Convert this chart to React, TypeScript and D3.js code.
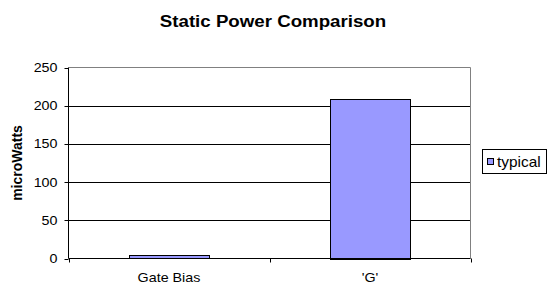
import React from 'react'
import * as d3 from 'd3';

const categories = ['Gate Bias', "'G'"];
const typical = [4, 209];
const yTicks = [0, 50, 100, 150, 200, 250];
const seriesName = 'typical';

// text in the reference is a bit wider than it is tall
const sx = 1.1;

function Label({ x, y, size, anchor = 'start', bold = false, children }: any) {
    return (
        <text transform={`translate(${x},${y}) scale(${sx},1)`} textAnchor={anchor} fontSize={size}
            fontWeight={bold ? 'bold' : 'normal'}>{children}</text>
    );
}

export default function App() {
    const width = 549;
    const height = 285;
    const left = 68.5;
    const right = 470.5;
    const top = 67.5;
    const bottom = 258.5;

    const xScale = d3.scaleBand<string>()
        .domain(categories)
        .range([left, right])
        .paddingInner(0.6)
        .paddingOuter(0.3);
    // band edges for category ticks
    const edge = d3.scaleLinear().domain([0, categories.length]).range([left, right]);

    const yScale = d3.scaleLinear()
        .domain([0, 250])
        .range([bottom, top]);

    const font = '"Liberation Sans", Arial, sans-serif';

    return (
        <svg width={width} height={height} style={{ position: 'absolute', left: 0, top: 0, background: '#fff' }}
            fontFamily={font}>
            <Label x={273} y={27} size={17} anchor='middle' bold>Static Power Comparison</Label>

            {/* gridlines */}
            {yTicks.filter(t => t > 0 && t < 250).map(t => (
                <line key={t} x1={left} x2={right} y1={Math.round(yScale(t)) + 0.5} y2={Math.round(yScale(t)) + 0.5}
                    stroke='#000' strokeWidth={1} />
            ))}
            {/* plot border top / right */}
            <line x1={left} x2={right} y1={top} y2={top} stroke='#808080' />
            <line x1={right} x2={right} y1={top} y2={bottom} stroke='#808080' />

            {/* bars */}
            {categories.map((c, i) => (
                <rect key={c} x={Math.round(xScale(c)!) + 0.5} y={Math.round(yScale(typical[i])) + 0.5}
                    width={Math.round(xScale.bandwidth())} height={Math.round(yScale(0) - yScale(typical[i]))}
                    fill='#9999ff' stroke='#000' strokeWidth={1} />
            ))}

            {/* y axis */}
            <line x1={left} x2={left} y1={top} y2={bottom} stroke='#000' />
            {yTicks.map(t => (
                <g key={t}>
                    <line x1={left - 4} x2={left} y1={Math.round(yScale(t)) + 0.5} y2={Math.round(yScale(t)) + 0.5} stroke='#000' />
                    <Label x={left - 11} y={yScale(t) + 4.5} size={13} anchor='end'>{t}</Label>
                </g>
            ))}

            {/* x axis */}
            <line x1={left} x2={right} y1={bottom} y2={bottom} stroke='#000' />
            {d3.range(categories.length + 1).map(i => (
                <line key={i} x1={Math.round(edge(i)) + 0.5} x2={Math.round(edge(i)) + 0.5} y1={bottom} y2={bottom + 4} stroke='#000' />
            ))}
            {categories.map(c => (
                <Label key={c} x={xScale(c)! + xScale.bandwidth() / 2} y={282} size={13} anchor='middle'>{c}</Label>
            ))}

            <text transform={`translate(22, ${(top + bottom) / 2}) rotate(-90) scale(1,${sx})`} textAnchor='middle'
                fontSize={14} fontWeight='bold'>microWatts</text>

            {/* legend */}
            <rect x={482.5} y={149.5} width={64} height={24} fill='#fff' stroke='#000' />
            <rect x={487.5} y={158.5} width={6} height={6} fill='#9999ff' stroke='#000' />
            <Label x={497} y={166.5} size={14}>{seriesName}</Label>
        </svg>
    );
}
